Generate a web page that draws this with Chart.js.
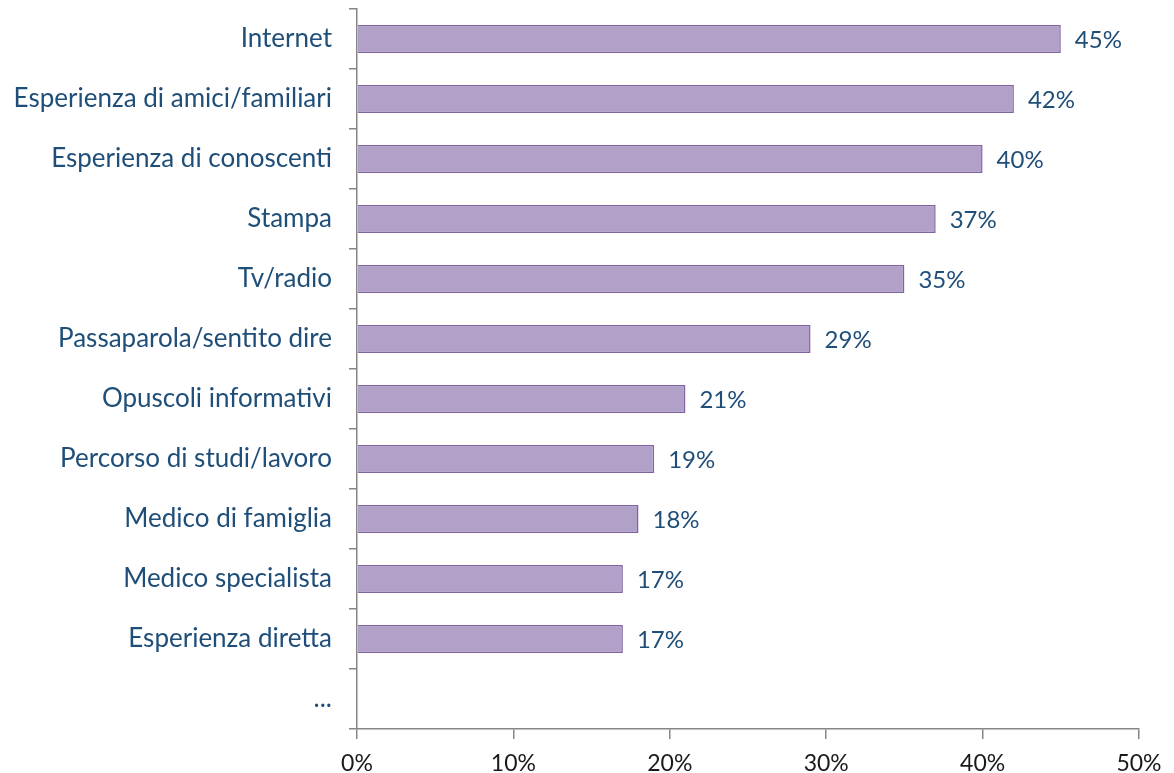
<!DOCTYPE html>
<html>
<head>
<meta charset="utf-8">
<script src="https://cdn.jsdelivr.net/npm/chart.js@4"></script>
<style>
html,body{margin:0;padding:0;background:#fff;}
#wrap{width:1174px;height:773px;position:relative;}
</style>
</head>
<body>
<div id="wrap"><canvas id="c" width="1174" height="773"></canvas></div>
<script>
const categories = ["Internet","Esperienza di amici/familiari","Esperienza di conoscenti","Stampa","Tv/radio","Passaparola/sentito dire","Opuscoli informativi","Percorso di studi/lavoro","Medico di famiglia","Medico specialista","Esperienza diretta","..."];
const values = [45,42,40,37,35,29,21,19,18,17,17,null];
const xTicks = [0,10,20,30,40,50];

const FONT = "Lato";
const labelBlue = "#1f4e79";

const valueLabels = {
  id: 'valueLabels',
  afterDatasetsDraw(chart) {
    const ctx = chart.ctx;
    const meta = chart.getDatasetMeta(0);
    ctx.save();
    ctx.font = "24px " + FONT;
    ctx.fillStyle = labelBlue;
    ctx.textBaseline = 'middle';
    ctx.textAlign = 'left';
    meta.data.forEach((bar, i) => {
      if (values[i] == null) return;
      ctx.fillText(values[i] + '%', bar.x + 14, bar.y + 1);
    });
    ctx.restore();
  }
};

new Chart(document.getElementById('c'), {
  type: 'bar',
  data: {
    labels: categories,
    datasets: [{
      data: values,
      backgroundColor: '#b1a0c7',
      borderColor: '#8064a2',
      borderWidth: 1.5,
      categoryPercentage: 1,
      barPercentage: 0.47
    }]
  },
  options: {
    indexAxis: 'y',
    responsive: false,
    animation: false,
    layout: { padding: { top: 9, right: 35, bottom: 0, left: 0 } },
    plugins: { legend: { display: false }, tooltip: { enabled: false } },
    scales: {
      x: {
        min: 0, max: 50,
        afterBuildTicks(scale) { scale.ticks = xTicks.map(v => ({ value: v })); },
        afterFit(scale) { scale.height = 44; scale.paddingLeft = 0; scale.paddingRight = 0; },
        border: { color: '#868686', width: 1.5 },
        grid: { drawOnChartArea: false, tickLength: 10, color: '#868686', lineWidth: 1.5 },
        ticks: {
          callback: v => v + '%',
          font: { family: FONT, size: 23 },
          color: '#1a1a1a',
          padding: 11,
          maxRotation: 0
        }
      },
      y: {
        afterFit(scale) { scale.width = 357; scale.paddingTop = 0; scale.paddingBottom = 0; },
        border: { color: '#868686', width: 1.5 },
        grid: { drawOnChartArea: false, offset: true, tickLength: 8, color: '#868686', lineWidth: 1.5 },
        ticks: {
          font: { family: FONT, size: 26 },
          color: labelBlue,
          padding: 17,
          autoSkip: false
        }
      }
    }
  },
  plugins: [valueLabels]
});
</script>
</body>
</html>
